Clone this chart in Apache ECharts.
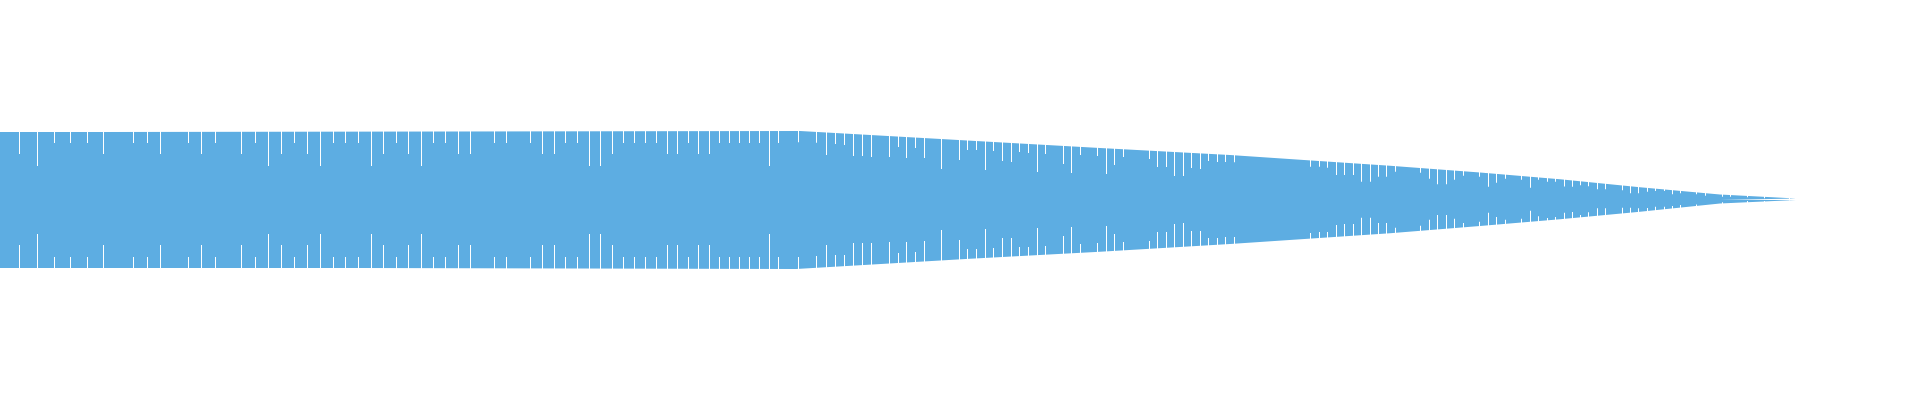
<!DOCTYPE html>
<html>
<head>
<meta charset="utf-8">
<title>waveform</title>
<script src="https://cdn.jsdelivr.net/npm/echarts@6.0.0/dist/echarts.min.js"></script>
<style>
  html, body { margin: 0; padding: 0; background: #fff; }
  #chart { width: 1920px; height: 400px; }
</style>
</head>
<body>
<div id="chart"></div>
<script>
// envelope, upper half (position, amplitude)
var topX   = [0, 103, 103, 800, 976, 1100, 1230, 1304, 1390, 1480, 1560, 1640, 1720, 1796];
var topAmp = [68, 68, 69, 69, 59, 52, 45, 40, 34.3, 27.5, 20.7, 12.8, 5.5, 1.5];

// envelope, lower half
var botX   = [0, 364, 364, 796, 970, 1100, 1230, 1390, 1480, 1560, 1640, 1720, 1796];
var botAmp = [68, 68, 69, 69, 58.7, 51.7, 44, 33.3, 26, 19.3, 11.7, 3.5, 0];

// dips: position, level reached on the upper side, level reached on the lower side
var notchX = [
  19.3, 37.3, 54.3, 70.3, 87.3, 103.3, 133.3, 147.7, 160.7, 188.3, 201.3, 215.3, 241.3, 255.3, 268.3, 281.7, 294.5,
  307.3, 320.3, 333.3, 345.3, 358.3, 371.3, 383.3, 396.3, 408.3, 421.3, 433.3, 445.3, 458.3, 470.3, 494.3, 506.3, 530.3,
  542.3, 554.3, 565.3, 577.3, 589.3, 600.3, 612.3, 623.3, 634.3, 645.3, 656.3, 667.3, 677.3, 688.3, 698.3, 709.3,
  719.3, 729.3, 739.3, 749.3, 759.3, 769.3, 778.3, 798.5,
  816, 826.3, 835.3, 844.3, 853.3, 862.3, 871.3, 889.3, 898.3, 906.3, 915.3, 924.3, 941.3, 959.3, 967.3, 976.3,
  985, 993.3, 1002.3, 1011.3, 1019.3, 1028.3, 1037.3, 1045.7, 1063.3, 1071.7, 1080.7, 1097.3, 1106.3, 1114.7, 1123.3,
  1149.3, 1157.3, 1166.3, 1174.7, 1183.3, 1191.3, 1200.3, 1208.7, 1217.3, 1225.7, 1234.3,
  1310.7, 1319.3, 1327.3, 1336.3, 1344.3, 1353.3, 1361.3, 1370.3, 1378.7, 1386.7,
  1395.7, 1420.7, 1429.3, 1437.7, 1446.3, 1454.7, 1463.3, 1479.3, 1488.3, 1496.7, 1505.3, 1521.3, 1530, 1538.7, 1547.3, 1555.7,
  1564, 1572.3, 1580.7, 1588.7, 1597.7, 1605.3, 1622, 1630.7, 1638.7, 1647.3, 1655.7, 1664.3, 1672.3, 1680.7,
  1696.7, 1705.3, 1722.7, 1730.7, 1747.7, 1764, 1789
];
var notchTop = [
  46, 34, 57, 57, 57, 46, 57, 57, 46, 57, 46, 57, 46, 57, 34, 46, 57,
  46, 34, 57, 57, 57, 34, 46, 57, 46, 34, 57, 57, 46, 46, 57, 57, 57,
  46, 46, 57, 57, 34, 34, 46, 57, 57, 57, 57, 46, 46, 57, 46, 46,
  57, 57, 57, 57, 57, 34, 57, 57.7,
  57.3, 45, 56, 55, 44, 44, 43, 43, 53, 42, 52, 42, 31, 40, 50, 50,
  30, 49, 39, 38, 48, 47, 28, 46, 36, 27, 45, 44, 26, 35, 43,
  41, 33, 33, 24, 24, 32, 31, 39, 38, 38, 37.7,
  33.3, 33.3, 32.3, 25, 25, 25, 18.3, 18.3, 23.3, 23.3,
  28.3, 27.3, 21.3, 15.7, 15.7, 20.3, 24.3, 23.3, 13.3, 17.3, 21.3, 20.3, 12.3, 20.3, 18.3, 18.3,
  13.5, 13.3, 14.7, 13.7, 10.7, 10.7, 9.7, 6.7, 6.7, 8.3, 9, 9, 5.7, 6.7,
  5.7, 4.3, 3.3, 3.3, 2.7, 1.7, 1
];
var notchBot = [
  45, 34, 57, 57, 57, 45, 57, 57, 45, 57, 45, 57, 45, 57, 34, 45, 57,
  45, 34, 57, 57, 57, 34, 45, 57, 45, 34, 57, 57, 45, 45, 57, 57, 57,
  45, 45, 57, 57, 34, 34, 45, 57, 57, 57, 57, 45, 45, 57, 45, 45,
  57, 57, 57, 57, 57, 34, 57, 57,
  56, 45, 55, 55, 43, 43, 43, 42, 53, 42, 52, 41, 30, 40, 49, 49,
  29, 48, 38, 38, 47, 47, 28, 46, 36, 27, 44, 43, 26, 34, 42,
  41, 32, 32, 24, 23, 31, 31, 38, 38, 37, 37,
  33, 32, 32, 25, 24, 24, 17.7, 17.7, 23, 23,
  27.7, 25.7, 19.7, 15, 15, 18.7, 23, 21.7, 12.7, 17, 19.7, 18.7, 10.7, 16.3, 18, 17,
  12.7, 12, 15, 12.3, 8.3, 8.3, 7.7, 7.7, 8.3, 8, 6.7, 6.7, 6, 5,
  4.5, 5, 2.3, 3.3, 1, 1, 0.5
];

var BLUE = '#5dade2';

function pairs(xs, ys, sign) {
  return xs.map(function (x, i) { return [x, sign * ys[i]]; });
}

// white dip line from the reached level out past the edge
function notchItem(dir) {
  return function (params, api) {
    var p = api.coord([api.value(0), api.value(1)]);
    var q = api.coord([api.value(0), dir * 150]);
    return {
      type: 'rect',
      shape: {
        x: Math.floor(p[0]),
        y: Math.min(p[1], q[1]),
        width: 1,
        height: Math.abs(p[1] - q[1])
      },
      style: { fill: '#fff' }
    };
  };
}

var chart = echarts.init(document.getElementById('chart'));
chart.setOption({
  animation: false,
  backgroundColor: '#fff',
  grid: { left: 0, right: 0, top: 0, bottom: 0 },
  xAxis: { type: 'value', min: 0, max: 1920, show: false },
  yAxis: { type: 'value', min: -200, max: 200, show: false },
  series: [
    {
      name: 'upper',
      type: 'line',
      data: pairs(topX, topAmp, 1),
      symbol: 'none',
      lineStyle: { opacity: 0 },
      areaStyle: { color: BLUE, opacity: 1 },
      silent: true
    },
    {
      name: 'lower',
      type: 'line',
      data: pairs(botX, botAmp, -1),
      symbol: 'none',
      lineStyle: { opacity: 0 },
      areaStyle: { color: BLUE, opacity: 1 },
      silent: true
    },
    {
      name: 'dipsUpper',
      type: 'custom',
      coordinateSystem: 'cartesian2d',
      data: pairs(notchX, notchTop, 1),
      renderItem: notchItem(1),
      z: 5,
      silent: true
    },
    {
      name: 'dipsLower',
      type: 'custom',
      coordinateSystem: 'cartesian2d',
      data: pairs(notchX, notchBot, -1),
      renderItem: notchItem(-1),
      z: 5,
      silent: true
    }
  ]
});
</script>
</body>
</html>
